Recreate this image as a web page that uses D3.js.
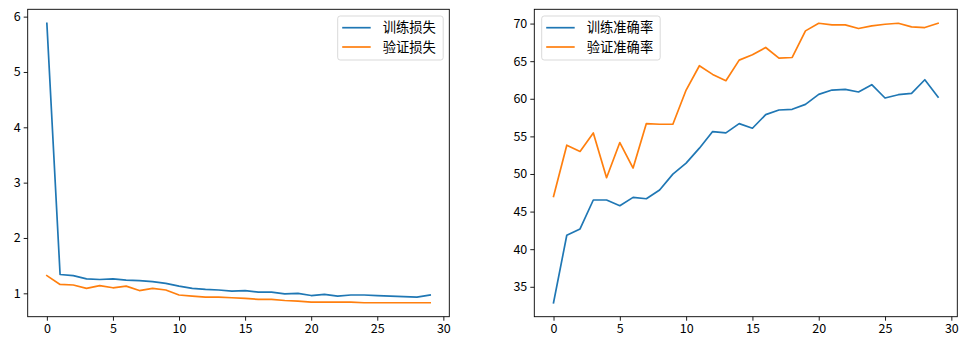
<!DOCTYPE html>
<html>
<head>
<meta charset="utf-8">
<script src="https://cdn.jsdelivr.net/npm/d3@7"></script>
<style>
  html, body { margin: 0; padding: 0; background: #fff; }
  svg { display: block; }
  text { font-family: "Noto Sans CJK SC", "DejaVu Sans", sans-serif; fill: #000; }
</style>
</head>
<body>
<svg id="chart" width="967" height="349"></svg>
<script>
// Epoch indices 0..29
const epochs = d3.range(30);

// Loss per epoch
const trainLoss = [5.88, 1.34, 1.32, 1.26, 1.25, 1.26, 1.24, 1.23, 1.21, 1.18,
                   1.13, 1.09, 1.07, 1.06, 1.04, 1.05, 1.02, 1.02, 0.99, 1.00,
                   0.96, 0.98, 0.95, 0.97, 0.97, 0.96, 0.95, 0.94, 0.93, 0.97];
const valLoss = [1.32, 1.16, 1.15, 1.09, 1.14, 1.10, 1.13, 1.05, 1.09, 1.06,
                 0.97, 0.95, 0.93, 0.93, 0.92, 0.91, 0.89, 0.89, 0.87, 0.86,
                 0.84, 0.84, 0.84, 0.84, 0.83, 0.83, 0.83, 0.83, 0.83, 0.83];

// Accuracy per epoch (%)
const trainAcc = [32.88, 41.85, 42.69, 46.54, 46.54, 45.78, 46.89, 46.71, 47.86, 49.98,
                  51.44, 53.43, 55.64, 55.46, 56.70, 56.08, 57.89, 58.51, 58.60, 59.26,
                  60.59, 61.16, 61.25, 60.90, 61.87, 60.10, 60.54, 60.72, 62.53, 60.23];
const valAcc = [47.02, 53.83, 52.99, 55.46, 49.50, 54.18, 50.78, 56.70, 56.61, 56.61,
                61.16, 64.39, 63.24, 62.40, 65.14, 65.85, 66.82, 65.40, 65.49, 69.03,
                70.04, 69.82, 69.82, 69.34, 69.69, 69.91, 70.04, 69.56, 69.47, 70.04];

// Tick labels
const xTicks = [0, 5, 10, 15, 20, 25, 30];
const lossTicks = [1, 2, 3, 4, 5, 6];
const accTicks = [35, 40, 45, 50, 55, 60, 65, 70];

// Legend labels
const lossLabels = ["训练损失", "验证损失"];
const accLabels = ["训练准确率", "验证准确率"];

const colors = ["#1f77b4", "#ff7f0e"];
const svg = d3.select("#chart");

// matplotlib-style 5% padding around the data range
function padded(vals) {
  const [lo, hi] = d3.extent(vals);
  const m = (hi - lo) * 0.05;
  return [lo - m, hi + m];
}

function panel(box, seriesList, yTicks, labels, legendAt) {
  const x = d3.scaleLinear().domain(padded(epochs)).range([box.left, box.right]);
  const y = d3.scaleLinear().domain(padded(seriesList.flat())).range([box.bottom, box.top]);
  const g = svg.append("g");

  const xAxis = d3.axisBottom(x).tickValues(xTicks).tickSize(4).tickPadding(3).tickFormat(d3.format("d"));
  const gx = g.append("g").attr("transform", `translate(0,${box.bottom})`).call(xAxis);
  const yAxis = d3.axisLeft(y).tickValues(yTicks).tickSize(4).tickPadding(3).tickFormat(d3.format("d"));
  const gy = g.append("g").attr("transform", `translate(${box.left},0)`).call(yAxis);
  [gx, gy].forEach(a => {
    a.select(".domain").remove();
    a.selectAll(".tick line").attr("stroke", "#000").attr("stroke-width", 0.9);
    a.selectAll(".tick text").attr("font-size", 12.5).style("font-family", '"Noto Sans CJK SC", sans-serif');
  });

  const line = d3.line().x((d, i) => x(epochs[i])).y(d => y(d));
  seriesList.forEach((s, k) => {
    g.append("path").datum(s)
      .attr("d", line)
      .attr("fill", "none")
      .attr("stroke", colors[k])
      .attr("stroke-width", 1.7)
      .attr("stroke-linejoin", "round")
      .attr("stroke-linecap", "square");
  });

  // axes frame
  g.append("rect")
    .attr("x", box.left).attr("y", box.top)
    .attr("width", box.right - box.left).attr("height", box.bottom - box.top)
    .attr("fill", "none").attr("stroke", "#000").attr("stroke-width", 0.9);

  // legend
  const lg = g.append("g").attr("transform", `translate(${legendAt.x},${legendAt.y})`);
  lg.append("rect")
    .attr("x", 0).attr("y", 0).attr("width", legendAt.w).attr("height", 44)
    .attr("rx", 2.5).attr("fill", "#fff").attr("fill-opacity", 0.8)
    .attr("stroke", "#d5d5d5").attr("stroke-width", 0.9);
  labels.forEach((lab, k) => {
    const cy = 11.7 + k * 19.3;
    lg.append("line")
      .attr("x1", 4.5).attr("x2", 33).attr("y1", cy).attr("y2", cy)
      .attr("stroke", colors[k]).attr("stroke-width", 1.7);
    lg.append("text")
      .attr("x", 45).attr("y", cy).attr("dy", "0.36em")
      .attr("font-size", 13.3).text(lab);
  });
}

panel({ left: 27.7, right: 449.3, top: 9.3, bottom: 316.7 },
      [trainLoss, valLoss], lossTicks, lossLabels,
      { x: 337.7, y: 16, w: 105.5 });

panel({ left: 534.3, right: 957.3, top: 9.3, bottom: 316.7 },
      [trainAcc, valAcc], accTicks, accLabels,
      { x: 541.7, y: 16, w: 118.5 });
</script>
</body>
</html>
